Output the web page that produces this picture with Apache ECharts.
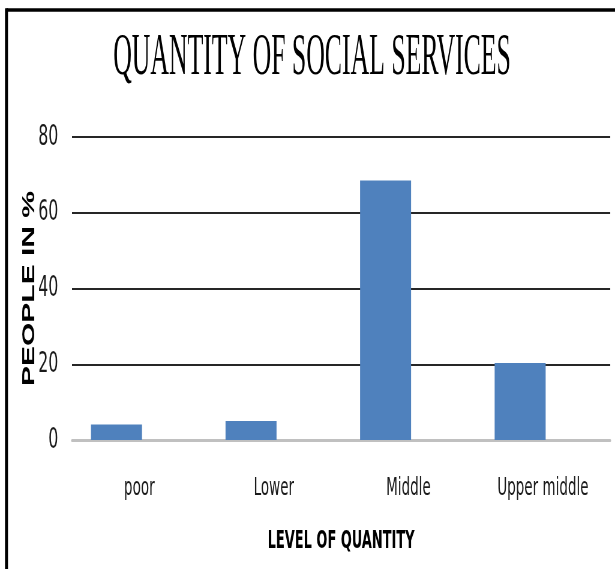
<!DOCTYPE html>
<html>
<head>
<meta charset="utf-8">
<title>Quantity of social services</title>
<script src="https://cdn.jsdelivr.net/npm/echarts@6/dist/echarts.min.js"></script>
<style>
html, body { margin: 0; padding: 0; overflow: hidden; background: #fff; }
/* the original picture is squeezed sideways, so draw wide and squeeze it back */
#chart { width: 1025px; height: 569px; transform: scaleX(0.6); transform-origin: 0 0; }
</style>
</head>
<body>
<div id="chart"></div>
<script>
var categories = ['poor', 'Lower', 'Middle', 'Upper middle'];
var peopleInPercent = [4.1, 5.0, 68.5, 20.3];
var yMin = 0;
var yMax = 80;
var yStep = 20;

var narrow = '"Liberation Sans Narrow", "DejaVu Sans Condensed", "Liberation Sans", sans-serif';

var chart = echarts.init(document.getElementById('chart'));
chart.setOption({
    backgroundColor: '#fff',
    animation: false,
    graphic: [{
        type: 'line',
        silent: true,
        shape: { x1: 10.8, y1: 10, x2: 1040, y2: 10 },
        style: { stroke: '#000', lineWidth: 3.5 }
    }, {
        type: 'line',
        silent: true,
        shape: { x1: 10.8, y1: 8.3, x2: 10.8, y2: 600 },
        style: { stroke: '#000', lineWidth: 5 }
    }, {
        type: 'text',
        silent: true,
        x: 520,
        y: 58,
        scaleX: 0.715,
        style: {
            text: 'QUANTITY OF SOCIAL SERVICES',
            font: '60px "Liberation Serif", serif',
            fill: '#000',
            textAlign: 'center',
            textVerticalAlign: 'middle'
        }
    }],
    grid: [
        // axes, grid lines and labels
        { left: 120, right: 8, top: 137, bottom: 129 },
        // bars sit a bit left of the label centres
        { left: 82, right: 46, top: 137, bottom: 129 }
    ],
    xAxis: [{
        type: 'category',
        gridIndex: 0,
        data: categories,
        axisTick: { show: false },
        axisLine: { lineStyle: { color: '#c0c0c0', width: 3 } },
        axisLabel: {
            margin: 36,
            color: '#1a1a1a',
            fontSize: 25,
            fontFamily: narrow
        },
        name: 'LEVEL OF QUANTITY',
        nameLocation: 'middle',
        nameGap: 90,
        nameMoveOverlap: false,
        nameTextStyle: {
            color: '#000',
            fontSize: 24,
            fontWeight: 'bold',
            fontFamily: narrow
        }
    }, {
        type: 'category',
        gridIndex: 1,
        data: categories,
        show: false
    }],
    yAxis: [{
        type: 'value',
        gridIndex: 0,
        min: yMin,
        max: yMax,
        interval: yStep,
        axisLine: { show: false },
        axisTick: { show: false },
        splitLine: { lineStyle: { color: '#262626', width: 2 } },
        axisLabel: {
            margin: 23,
            color: '#1a1a1a',
            fontSize: 29,
            fontFamily: narrow
        },
        name: 'PEOPLE IN %',
        nameLocation: 'middle',
        nameGap: 56,
        nameMoveOverlap: false,
        nameTextStyle: {
            color: '#000',
            fontSize: 30,
            fontWeight: 'bold',
            fontFamily: '"Liberation Sans", Arial, sans-serif'
        }
    }, {
        type: 'value',
        gridIndex: 1,
        min: yMin,
        max: yMax,
        interval: yStep,
        show: false
    }],
    series: [{
        name: 'People in %',
        type: 'bar',
        xAxisIndex: 1,
        yAxisIndex: 1,
        data: peopleInPercent,
        barWidth: 85,
        itemStyle: { color: '#4f81bd' }
    }]
});
</script>
</body>
</html>
